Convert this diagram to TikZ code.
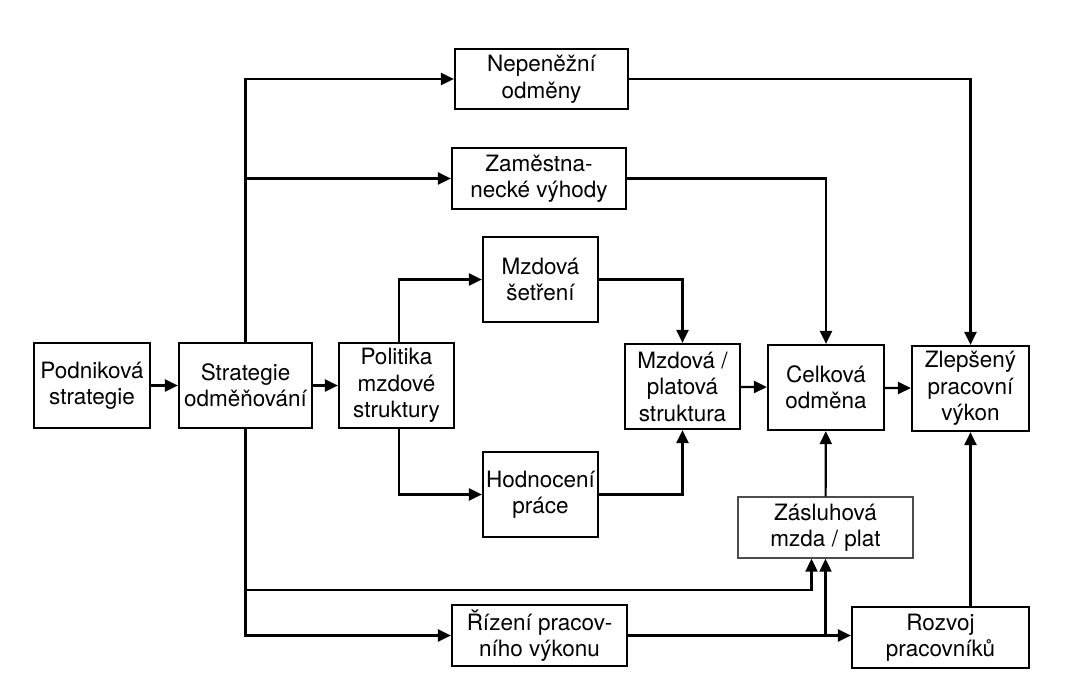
\documentclass[tikz,border=0pt]{standalone}
\usepackage{fontspec}
\setmainfont{TeX Gyre Heros}
\usetikzlibrary{arrows.meta}
\begin{document}
\begin{tikzpicture}[x=1pt,y=-1pt,
  box/.style={draw, line width=2.2pt, inner sep=0pt, align=center,
    font=\fontsize{22.5}{26.5}\selectfont},
  lightbox/.style={box, line width=1.4pt, draw=black!70},
  arr/.style={line width=2.2pt, -{Triangle[length=13pt,width=12pt]}}]
\useasboundingbox (0,0) rectangle (1071,679);
\fill[white] (0,0) rectangle (1071,679);
% boxes
\node[box, minimum width=116pt, minimum height=85pt] (pod) at (92,385.5) {Podniková\\strategie};
\node[box, minimum width=133pt, minimum height=85pt] (str) at (245.5,385.5) {Strategie\\odměňování};
\node[box, minimum width=115pt, minimum height=85pt] (pol) at (396.5,385.5) {Politika\\mzdové\\struktury};
\node[box, minimum width=115pt, minimum height=85pt] (set) at (540.5,279.5) {Mzdová\\šetření};
\node[box, minimum width=115pt, minimum height=85pt] (hod) at (540.5,494.5) {Hodnocení\\práce};
\node[box, minimum width=115pt, minimum height=85pt] (mps) at (682.5,386.5) {Mzdová /\\platová\\struktura};
\node[box, minimum width=116pt, minimum height=85pt] (cel) at (826,387.5) {Celková\\odměna};
\node[box, minimum width=117pt, minimum height=85pt] (zle) at (970.5,388.5) {Zlepšený\\pracovní\\výkon};
\node[box, minimum width=173pt, minimum height=60pt] (nep) at (541.5,79) {Nepeněžní\\odměny};
\node[box, minimum width=174pt, minimum height=61pt] (zam) at (539,178.5) {Zaměstna-\\necké výhody};
\node[lightbox, minimum width=175pt, minimum height=61pt] (zas) at (825.5,527.5) {Zásluhová\\mzda / plat};
\node[box, minimum width=175pt, minimum height=61pt] (riz) at (539.5,635.5) {Řízení pracov-\\ního výkonu};
\node[box, minimum width=177pt, minimum height=61pt] (roz) at (940.5,637.5) {Rozvoj\\pracovníků};
% helper coordinates
\coordinate (b1) at (str.south |- 0,590);
\coordinate (zl) at ([xshift=-14pt]zas.south);
% connectors
\draw[arr] (pod) -- (str);
\draw[arr] (str) -- (pol);
\draw[arr] (str.north) |- (nep.west);
\draw[arr] (str.north |- zam.west) -- (zam.west);
\draw[arr] (str.south) |- (riz.west);
\draw[arr] (b1) -| (zl);
\draw[arr] (riz.east) -- (riz.east -| roz.west);
\draw[arr] (riz.east -| zas.south) -- (zas.south);
\draw[arr] (zas) -- (cel);
\draw[arr] (zle.south |- roz.north) -- (zle.south);
\draw[arr] (nep.east) -| (zle.north);
\draw[arr] (zam.east) -| (cel.north);
\draw[arr] ([xshift=2.5pt]pol.north) |- (set.west);
\draw[arr] (set.east) -| (mps.north);
\draw[arr] ([xshift=2.5pt]pol.south) |- (hod.west);
\draw[arr] (hod.east) -| (mps.south);
\draw[arr] (mps) -- (cel);
\draw[arr] (cel) -- (zle);
\end{tikzpicture}
\end{document}
